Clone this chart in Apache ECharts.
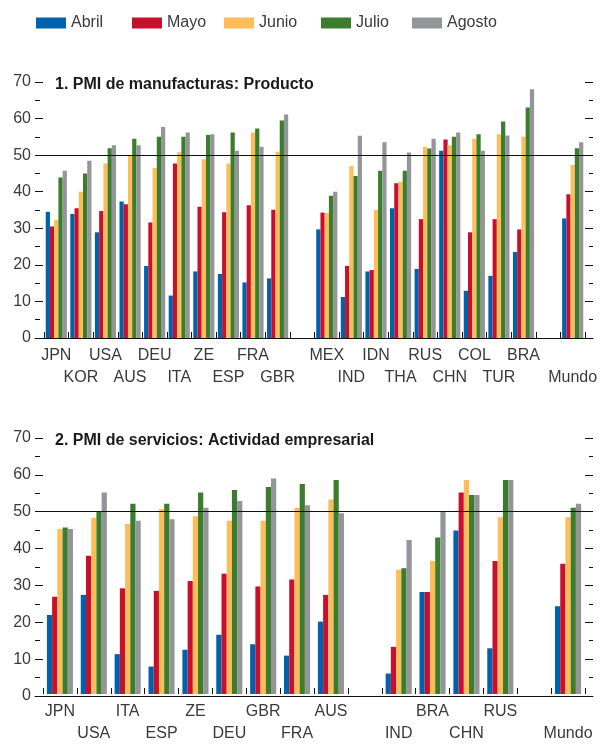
<!DOCTYPE html>
<html>
<head>
<meta charset="utf-8">
<script src="https://cdn.jsdelivr.net/npm/echarts@6/dist/echarts.min.js"></script>
<style>
  html, body { margin: 0; padding: 0; background: #fff; }
  #chart { width: 603px; height: 745px; }
</style>
</head>
<body>
<div id="chart"></div>
<script>
// Panel 1: PMI manufacturas
const cats1 = ['JPN','KOR','USA','AUS','DEU','ITA','ZE','ESP','FRA','GBR',' ','MEX','IND','IDN','THA','RUS','CHN','COL','TUR','BRA','  ','Mundo'];
const abril1  = [34.5,33.9,28.9,37.3,19.7,11.6,18.2,17.5,15.2,16.3,null,29.7,11.2,18.2,35.5,18.9,51.2,12.9,17.0,23.5,null,32.7];
const mayo1   = [30.5,35.5,34.7,36.6,31.6,47.7,35.9,34.4,36.3,35.1,null,34.3,19.7,18.6,42.3,32.5,54.3,28.9,32.5,29.7,null,39.3];
const junio1  = [32.3,40.0,47.7,49.8,46.5,50.8,48.9,47.7,56.2,50.9,null,34.2,47.0,35.0,42.7,52.3,52.7,54.5,55.7,55.0,null,47.3];
const julio1  = [43.9,45.0,51.9,54.5,55.0,55.0,55.5,56.2,57.3,59.5,null,38.9,44.3,45.7,45.7,51.8,55.0,55.7,59.2,63.0,null,51.9];
const agosto1 = [45.7,48.5,52.7,52.7,57.7,56.2,55.7,51.2,52.3,61.1,null,40.0,55.3,53.5,50.7,54.5,56.2,51.2,55.4,68.0,null,53.5];
const lowRow1 = ['KOR','AUS','ITA','ESP','GBR','IND','THA','CHN','TUR','Mundo'];

// Panel 2: PMI servicios
const cats2 = ['JPN','USA','ITA','ESP','ZE','DEU','GBR','FRA','AUS',' ','IND','BRA','CHN','RUS','  ','Mundo'];
const abril2  = [21.6,27.1,10.9,7.5,12.1,16.2,13.6,10.5,19.8,null,5.6,27.9,44.7,12.5,null,24.0];
const mayo2   = [26.6,37.8,28.9,28.2,30.9,32.9,29.4,31.3,27.1,null,12.9,27.9,55.1,36.4,null,35.6];
const junio2  = [45.1,48.2,46.5,50.5,48.6,47.4,47.4,50.9,53.2,null,34.0,36.4,58.5,48.3,null,48.3];
const julio2  = [45.5,49.8,52.0,52.0,55.1,55.8,56.6,57.4,58.5,null,34.4,42.8,54.4,58.5,null,50.9];
const agosto2 = [45.1,55.1,47.4,47.8,50.9,52.8,58.9,51.6,49.4,null,42.1,49.8,54.4,58.5,null,52.0];
const lowRow2 = ['USA','ESP','DEU','FRA','IND','CHN','Mundo'];

const seriesNames = ['Abril','Mayo','Junio','Julio','Agosto'];
const colors = ['#0061ad','#c8102e','#ffbd59','#3a7d2c','#939598'];
const yTicks = { min: 0, max: 70, interval: 10 };

const FONT = '"Liberation Sans Narrow", "Liberation Sans", Arial, sans-serif';
const TEXT = '#3a3a3a';

let chart = echarts.init(document.getElementById('chart'));

// 面板：外框网格 + 柱状图网格
function panelAxes(top, bottom, cats, lowRow) {
    const frameX = {
        type: 'value', min: 0, max: 1,
        axisLine: { show: true, lineStyle: { color: '#111', width: 1 } },
        axisTick: { show: false }, axisLabel: { show: false }, splitLine: { show: false }
    };
    const catX = {
        type: 'category', data: cats, boundaryGap: true,
        axisLine: { show: false },
        axisTick: { show: true, inside: true, length: 6, interval: 0, lineStyle: { color: '#111' } },
        axisLabel: {
            interval: 0, margin: 7, fontSize: 16, lineHeight: 22, color: TEXT, fontFamily: FONT,
            formatter: v => (lowRow.includes(v) ? '\n' + v : v)
        },
        splitLine: { show: false }
    };
    const leftY = Object.assign({
        type: 'value', position: 'left',
        axisLine: { show: false },
        axisTick: { show: true, inside: true, length: 8, lineStyle: { color: '#111' } },
        minorTick: { show: true, splitNumber: 2, length: 5, lineStyle: { color: '#111' } },
        axisLabel: { fontSize: 16, color: TEXT, fontFamily: FONT, margin: 4 },
        splitLine: { show: false }
    }, yTicks);
    const rightY = Object.assign({
        type: 'value', position: 'right',
        axisLine: { show: false },
        axisTick: { show: true, inside: true, length: 8, lineStyle: { color: '#111' } },
        minorTick: { show: true, splitNumber: 2, length: 4, lineStyle: { color: '#111' } },
        axisLabel: { show: false },
        splitLine: { show: false }
    }, yTicks);
    const barY = Object.assign({ type: 'value', show: false, splitLine: { show: false } }, yTicks);
    return { frameX, catX, leftY, rightY, barY, top, bottom };
}

const p1 = panelAxes(82, 407, cats1, lowRow1);
const p2 = panelAxes(438, 49, cats2, lowRow2);

function bars(data, xi, yi, gap) {
    return data.map((d, i) => ({
        name: seriesNames[i], type: 'bar', xAxisIndex: xi, yAxisIndex: yi,
        data: d, barGap: 0, barCategoryGap: gap,
        itemStyle: { color: colors[i] }
    }));
}

function refLine(xi, yi) {
    return {
        type: 'line', xAxisIndex: xi, yAxisIndex: yi, data: [], silent: true,
        markLine: {
            silent: true, symbol: ['none', 'none'],
            label: { show: false },
            lineStyle: { color: '#111', width: 1, type: 'solid' },
            data: [{ yAxis: 50 }]
        }
    };
}

// 图例：每项单独定位
const legendLeft = [36, 132, 224, 321, 412];
const legends = seriesNames.map((n, i) => ({
    data: [n], left: legendLeft[i], top: 15, padding: 0,
    icon: 'rect', itemWidth: 30, itemHeight: 11,
    textStyle: { fontSize: 16, color: TEXT, fontFamily: FONT }
}));

let option = {
    animation: false,
    textStyle: { fontFamily: FONT },
    legend: legends,
    title: [
        { text: '1. PMI de manufacturas: Producto', left: 50, top: 72,
          textStyle: { fontSize: 16, fontWeight: 'bold', color: '#1a1a1a', fontFamily: FONT } },
        { text: '2. PMI de servicios: Actividad empresarial', left: 50, top: 428,
          textStyle: { fontSize: 16, fontWeight: 'bold', color: '#1a1a1a', fontFamily: FONT } }
    ],
    grid: [
        { left: 35, right: 10, top: p1.top, bottom: p1.bottom },
        { left: 44, right: 18, top: p1.top, bottom: p1.bottom },
        { left: 35, right: 10, top: p2.top, bottom: p2.bottom },
        { left: 43, right: 18, top: p2.top, bottom: p2.bottom }
    ],
    xAxis: [
        Object.assign({ gridIndex: 0 }, p1.frameX),
        Object.assign({ gridIndex: 1 }, p1.catX),
        Object.assign({ gridIndex: 2 }, p2.frameX),
        Object.assign({ gridIndex: 3 }, p2.catX)
    ],
    yAxis: [
        Object.assign({ gridIndex: 0 }, p1.leftY),
        Object.assign({ gridIndex: 0 }, p1.rightY),
        Object.assign({ gridIndex: 1 }, p1.barY),
        Object.assign({ gridIndex: 2 }, p2.leftY),
        Object.assign({ gridIndex: 2 }, p2.rightY),
        Object.assign({ gridIndex: 3 }, p2.barY)
    ],
    series: [
        refLine(0, 0),
        refLine(2, 3),
        ...bars([abril1, mayo1, junio1, julio1, agosto1], 1, 2, '14%'),
        ...bars([abril2, mayo2, junio2, julio2, agosto2], 3, 5, '23%')
    ]
};
chart.setOption(option);
</script>
</body>
</html>
